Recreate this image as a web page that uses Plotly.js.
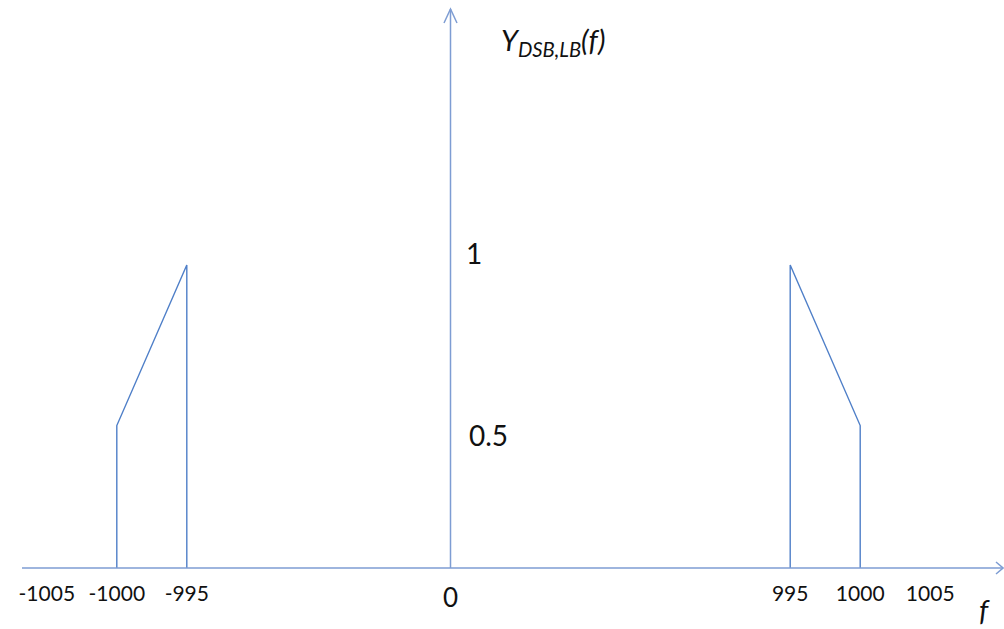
<!DOCTYPE html>
<html>
<head>
<meta charset="utf-8">
<script src="https://cdn.plot.ly/plotly-3.0.1.min.js"></script>
<style>html,body{margin:0;padding:0;background:#fff;}#chart{width:1004px;height:629px;}</style>
</head>
<body>
<div id="chart"></div>
<script>
// ---- data (frequency, amplitude) ----
const freqTicks = [-1005, -1000, -995, 0, 995, 1000, 1005];
const tickLabels = ['-1005', '-1000', '-995', '0', '995', '1000', '1005'];
const leftFreq = [-1000, -1000, -995, -995];
const leftAmp = [0, 0.47, 1, 0];
const rightFreq = [995, 995, 1000, 1000];
const rightAmp = [0, 1, 0.47, 0];
const ampLabels = ['1', '0.5'];
const ampLabelVals = [1, 0.5];

// ---- broken-axis mapping (the sketch compresses the gap between 0 and ±995) ----
const GAP_L = 976.2, GAP_R = 970.7;
function brk(f) { return f < 0 ? f + GAP_L : (f > 0 ? f - GAP_R : 0); }

const W = 1004, H = 629;
const X0 = 450, XS = 14;      // pixel of 0, pixels per unit
const Y0 = 568, YS = 303;     // pixel of amplitude 0, pixels per unit
const xr = [(0 - X0) / XS, (W - X0) / XS];
const yr = [(Y0 - H) / YS, Y0 / YS];
const px2x = p => (p - X0) / XS;
const px2y = p => (Y0 - p) / YS;

const lineCol = '#4F7FC8';
const axisCol = '#7E9DD3';
const txtCol = '#111111';
const FONT = 'Lato, "Open Sans", sans-serif';

const traces = [
  { x: leftFreq.map(brk), y: leftAmp, mode: 'lines', line: { color: lineCol, width: 1.4 }, hoverinfo: 'skip' },
  { x: rightFreq.map(brk), y: rightAmp, mode: 'lines', line: { color: lineCol, width: 1.4 }, hoverinfo: 'skip' }
];

const axShape = (path) => ({ type: 'path', xref: 'x', yref: 'y', path: path, line: { color: axisCol, width: 1.5 } });
const P = (px, py) => px2x(px) + ',' + px2y(py);
const shapes = [
  axShape('M' + P(22, Y0) + 'L' + P(1003, Y0)),
  axShape('M' + P(996, Y0 - 6) + 'L' + P(1003, Y0) + 'L' + P(996, Y0 + 6)),
  axShape('M' + P(X0 + 0.5, Y0) + 'L' + P(X0 + 0.5, 9)),
  axShape('M' + P(X0 - 6, 23) + 'L' + P(X0 + 0.5, 9) + 'L' + P(X0 + 7, 23))
];

const annotations = [
  { xref: 'paper', yref: 'paper', x: 553 / W, y: 1 - 41 / H, xanchor: 'center', yanchor: 'middle',
    text: '<i>Y<sub>DSB,LB</sub>(f)</i>', showarrow: false, font: { family: FONT, size: 29, color: txtCol } },
  { xref: 'paper', yref: 'paper', x: 984 / W, y: 1 - 609 / H, xanchor: 'center', yanchor: 'middle',
    text: '<i>f</i>', showarrow: false, font: { family: FONT, size: 29, color: txtCol } },
  { xref: 'x', yref: 'y', x: 0, y: ampLabelVals[0], xanchor: 'center', yanchor: 'middle', xshift: 24, yshift: 12,
    text: ampLabels[0], showarrow: false, font: { family: FONT, size: 28, color: txtCol } },
  { xref: 'x', yref: 'y', x: 0, y: ampLabelVals[1], xanchor: 'center', yanchor: 'middle', xshift: 38, yshift: -18,
    text: ampLabels[1], showarrow: false, font: { family: FONT, size: 28, color: txtCol } },
  { xref: 'x', yref: 'y', x: brk(freqTicks[3]), y: 0, xanchor: 'center', yanchor: 'middle', yshift: -29,
    text: tickLabels[3], showarrow: false, font: { family: FONT, size: 26, color: txtCol } }
];

const layout = {
  width: W, height: H,
  margin: { l: 0, r: 0, t: 0, b: 0, pad: 0 },
  paper_bgcolor: '#ffffff', plot_bgcolor: '#ffffff',
  showlegend: false,
  xaxis: {
    range: xr, anchor: 'free', position: (H - Y0) / H,
    showgrid: false, zeroline: false, showline: false,
    tickmode: 'array', tickvals: freqTicks.filter(f => f !== 0).map(brk),
    ticktext: tickLabels.filter(t => t !== '0'),
    ticks: '', ticklabelstandoff: 11,
    tickfont: { family: FONT, size: 21, color: txtCol }, fixedrange: true
  },
  yaxis: { range: yr, visible: false, fixedrange: true },
  shapes: shapes,
  annotations: annotations
};

Plotly.newPlot('chart', traces, layout, { displayModeBar: false, staticPlot: true });
</script>
</body>
</html>
